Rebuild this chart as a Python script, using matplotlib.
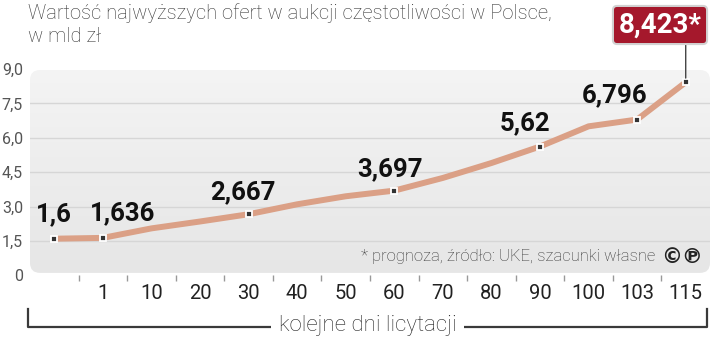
"""Wartość najwyższych ofert w aukcji częstotliwości - line chart."""

import numpy as np
import matplotlib

matplotlib.use("Agg")
import matplotlib.pyplot as plt
from matplotlib.colors import LinearSegmentedColormap
from matplotlib.lines import Line2D
from matplotlib.patches import FancyBboxPatch

# Data (value in bln PLN per auction day).
DAYS = ["", "1", "10", "20", "30", "40", "50", "60", "70", "80", "90", "100", "103", "115"]
VALUES = [1.6, 1.636, 2.05, 2.35, 2.667, 3.1, 3.45, 3.697, 4.25, 4.9, 5.62, 6.5, 6.796, 8.423]
LABELLED = [0, 1, 4, 7, 10, 12]
FORECAST = 13
Y_TICKS = [0, 1.5, 3.0, 4.5, 6.0, 7.5, 9.0]

TITLE = "Wartość najwyższych ofert w aukcji częstotliwości w Polsce,\nw mld zł"
NOTE = "* prognoza, źródło: UKE, szacunki własne"
X_TITLE = "kolejne dni licytacji"

# label offsets (points) relative to the marked point
LABEL_OFFSETS = [(0, 9), (14, 9), (-4, 7), (-3, 7), (-11, 8), (-16, 9)]

LINE_COLOR = "#dba086"
GREY = "#555555"
RED = "#a5182c"
NARROW = ["Liberation Sans Narrow", "Roboto", "DejaVu Sans"]
LIGHT = ["Roboto", "DejaVu Sans"]

W_PX, H_PX = 720, 337


def fmt(value: float) -> str:
    """Polish decimal comma."""
    return f"{value:g}".replace(".", ",")


def fmt_tick(value: float) -> str:
    """Y tick label, one decimal except for zero."""
    return f"{value:.1f}".replace(".", ",") if value else "0"


def main() -> None:
    fig = plt.figure(figsize=(W_PX / 100, H_PX / 100), dpi=100)
    ax = fig.add_axes([30 / W_PX, 1 - 275.4 / H_PX, 680 / W_PX, 206.4 / H_PX])

    x = np.arange(len(DAYS))
    ax.set_xlim(-0.5, len(DAYS) - 0.5)
    ax.set_ylim(Y_TICKS[0], Y_TICKS[-1])

    # Rounded gradient background.
    pos = ax.get_position()
    fw, fh = fig.get_size_inches()
    bg = FancyBboxPatch(
        (pos.x0 * fw, pos.y0 * fh + 0.025),
        pos.width * fw,
        pos.height * fh - 0.035,
        boxstyle="round,pad=0,rounding_size=0.1",
        transform=fig.dpi_scale_trans,
        facecolor="none",
        edgecolor="none",
    )
    cmap = LinearSegmentedColormap.from_list("bg", ["#e6e6e6", "#f4f4f4"])
    grad = np.linspace(0, 1, 256).reshape(-1, 1)
    img = ax.imshow(
        grad,
        extent=(-0.5, len(DAYS) - 0.5, Y_TICKS[0], Y_TICKS[-1]),
        origin="lower",
        aspect="auto",
        cmap=cmap,
        zorder=0,
    )
    img.set_clip_path(bg)

    for level in Y_TICKS[1:-1]:
        ax.axhline(level, color="#d6d6d6", linewidth=1.0, zorder=1)

    # Main line and markers.
    ax.plot(x, VALUES, color=LINE_COLOR, linewidth=4.3, solid_capstyle="round", zorder=2)
    marked = LABELLED + [FORECAST]
    ax.plot(
        x[marked],
        np.array(VALUES)[marked],
        linestyle="none",
        marker="s",
        markersize=5,
        markerfacecolor="#333333",
        markeredgecolor="white",
        markeredgewidth=1.3,
        zorder=3,
    )

    for idx, (dx, dy) in zip(LABELLED, LABEL_OFFSETS):
        ax.annotate(
            fmt(VALUES[idx]),
            (x[idx], VALUES[idx]),
            xytext=(dx, dy),
            textcoords="offset points",
            ha="center",
            va="bottom",
            fontsize=18.5,
            fontweight="bold",
            family=NARROW,
            color="#111111",
            zorder=4,
        )

    # Forecast call-out box with a vertical leader.
    ax.annotate(
        "",
        xy=(x[FORECAST], VALUES[FORECAST]),
        xytext=(0, 28),
        textcoords="offset points",
        arrowprops=dict(arrowstyle="-", color="#444444", linewidth=1.0, shrinkA=0, shrinkB=3),
        annotation_clip=False,
    )
    fig.text(
        660 / W_PX,
        1 - 25 / H_PX,
        fmt(VALUES[FORECAST]) + "*",
        ha="center",
        va="center",
        fontsize=20,
        fontweight="bold",
        family=NARROW,
        color="white",
        bbox=dict(boxstyle="round,pad=0.2,rounding_size=0.15", facecolor=RED, edgecolor="#d2d2d2", linewidth=1.5),
    )

    # Axes cosmetics.
    for spine in ax.spines.values():
        spine.set_visible(False)
    ax.set_xticks(x)
    ax.set_xticklabels(DAYS, fontsize=14.5, family=LIGHT, color="#222222")
    ax.set_xticks(x[:-1] + 0.5, minor=True)
    ax.tick_params(axis="x", which="major", length=0, pad=6)
    ax.tick_params(axis="x", which="minor", length=4, width=1, color="#999999", direction="out")
    ax.set_yticks(Y_TICKS)
    ax.set_yticklabels([fmt_tick(t) for t in Y_TICKS], fontsize=11.5, family=LIGHT, color=GREY)
    ax.tick_params(axis="y", length=0, pad=5)

    # Title and notes.
    fig.text(
        28 / W_PX,
        1 - 3 / H_PX,
        TITLE,
        ha="left",
        va="top",
        fontsize=14.5,
        fontweight="light",
        family=LIGHT,
        color="#333333",
        linespacing=1.25,
    )
    fig.text(655 / W_PX, 1 - 257 / H_PX, NOTE, ha="right", va="center", fontsize=12,
             fontweight="light", family=LIGHT, color="#333333")
    fig.text(682 / W_PX, 1 - 257 / H_PX, "©℗", ha="center", va="center", fontsize=15,
             fontweight="bold", family=["DejaVu Sans"], color="#222222")

    # Bracket under the x axis.
    bx0, bx1 = 28 / W_PX, 707 / W_PX
    by, btop = 10 / H_PX, 28 / H_PX
    fig.add_artist(Line2D([bx0, bx0, bx1, bx1], [btop, by, by, btop], color="#3a3a3a",
                          linewidth=1.6, transform=fig.transFigure))
    fig.text((bx0 + bx1) / 2, by + 2 / H_PX, X_TITLE, ha="center", va="center", fontsize=16,
             fontweight="light", family=LIGHT, color="#222222",
             bbox=dict(boxstyle="square,pad=0.35", facecolor="white", edgecolor="none"))

    fig.savefig("out.png", dpi=100)


if __name__ == "__main__":
    main()
